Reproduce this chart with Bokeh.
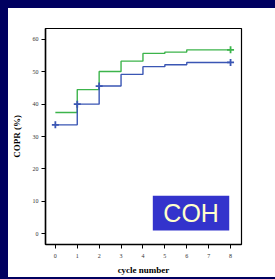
from bokeh.plotting import figure
from bokeh.models import FixedTicker, Range1d, Label, BoxAnnotation
from bokeh.layouts import column
from bokeh.embed import file_html
from bokeh.resources import INLINE

cycles = [0, 1, 2, 3, 4, 5, 6, 8]
green_copr = [37.4, 44.5, 50.1, 53.3, 55.7, 56.1, 56.8, 56.8]
blue_copr = [33.6, 40.0, 45.6, 49.2, 51.6, 52.2, 52.9, 52.9]
blue_mark_x = [0, 1, 2, 8]
blue_mark_y = [33.6, 40.0, 45.6, 52.9]
green_mark_x = [8]
green_mark_y = [56.8]
x_ticks = [0, 1, 2, 3, 4, 5, 6, 7, 8]
y_ticks = [0, 10, 20, 30, 40, 50, 60]
label_text = "COH"

GREEN = "#3cb44b"
BLUE = "#3a56b4"

p = figure(width=267, height=269, output_backend="svg", toolbar_location=None,
           x_range=Range1d(-0.45, 8.5), y_range=Range1d(-3.4, 63.4),
           min_border_left=36, min_border_right=34, min_border_top=20, min_border_bottom=32)
p.grid.visible = False
p.outline_line_color = "black"
p.outline_line_width = 1.2
p.background_fill_color = "white"
p.border_fill_color = "white"

for ax in (p.xaxis[0], p.yaxis[0]):
    ax.axis_line_color = "black"
    ax.axis_line_width = 1.5
    ax.major_tick_line_color = "black"
    ax.major_tick_line_width = 1
    ax.major_tick_out = 4
    ax.major_tick_in = 0
    ax.minor_tick_line_color = None
    ax.major_label_text_font = "Liberation Serif"
    ax.major_label_text_font_size = "6px"
    ax.major_label_text_color = "#333333"
    ax.axis_label_text_font = "Liberation Serif"
    ax.axis_label_text_font_style = "bold"
    ax.axis_label_text_font_size = "9px"
    ax.axis_label_text_color = "black"

p.xaxis.ticker = FixedTicker(ticks=x_ticks)
p.yaxis.ticker = FixedTicker(ticks=y_ticks)
p.xaxis.axis_label = "cycle number"
p.yaxis.axis_label = "COPR (%)"
p.xaxis.major_label_standoff = 5
p.xaxis.axis_label_standoff = 4
p.yaxis.major_label_standoff = 3
p.yaxis.axis_label_standoff = 8

p.step(cycles, green_copr, mode="after", line_color=GREEN, line_width=1.4)
p.step(cycles, blue_copr, mode="after", line_color=BLUE, line_width=1.4)
p.scatter(blue_mark_x, blue_mark_y, marker="cross", size=7, line_color=BLUE, line_width=1.8)
p.scatter(green_mark_x, green_mark_y, marker="cross", size=7, line_color=GREEN, line_width=1.8)

box = BoxAnnotation(left=4.45, right=7.94, bottom=0.9, top=11.7,
                    fill_color="#3333cc", fill_alpha=1.0, line_color=None)
p.add_layout(box)
p.add_layout(Label(x=6.2, y=6.3, text=label_text, text_align="center", text_baseline="middle",
                   text_font="Liberation Sans", text_font_size="25px", text_color="#ffffcc"))

root = column(p, styles={"border-left": "8px solid #000060",
                         "border-top": "8px solid #000060",
                         "border-bottom": "2px solid #000060",
                         "border-right": "8px solid white"})

open("out.html", "w").write(file_html(root, INLINE))
